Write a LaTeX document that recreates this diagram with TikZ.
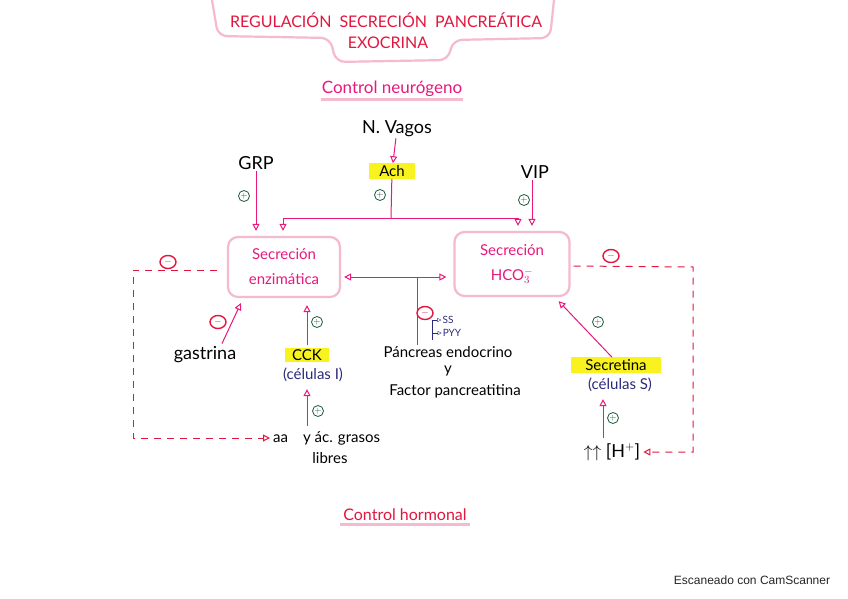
\documentclass[tikz,border=0pt]{standalone}
\usepackage{fontspec}
\setmainfont{Lato}
\newfontfamily\camfont{Liberation Sans}
\usetikzlibrary{arrows.meta,positioning,calc,shapes.geometric}
\definecolor{rosa}{HTML}{E8187C}
\definecolor{rosaclaro}{HTML}{F5B9D0}
\definecolor{rojo}{HTML}{E3163F}
\definecolor{verde}{HTML}{1E5A3C}
\definecolor{azul}{HTML}{2B2B7C}
\definecolor{amarillo}{HTML}{F8F21E}

\begin{document}
\begin{tikzpicture}[x=1pt,y=-1pt,
    txt/.style={font=\fontsize{15}{17}\selectfont, inner sep=1pt},
    grande/.style={txt, font=\fontsize{18}{20}\selectfont},
    titulo/.style={font=\fontsize{16}{18}\selectfont, text=rojo, inner sep=1pt},
    azultxt/.style={txt, text=azul},
    resalta/.style={txt, fill=amarillo, minimum width=46pt, inner sep=2pt},
    secbox/.style={draw=rosaclaro, line width=2.2pt, rounded corners=10pt, text=rosa, align=center,
      font=\fontsize{15}{25}\selectfont, minimum width=112pt, minimum height=60pt},
    posit/.style={circle, draw=verde, text=verde, thick, inner sep=0pt, minimum size=11pt, font=\fontsize{9}{9}\selectfont},
    negat/.style={ellipse, draw=rojo, text=rojo, line width=1.4pt, inner sep=0pt, minimum width=16pt, minimum height=13pt, font=\fontsize{10}{10}\selectfont},
    linea/.style={draw=rosa, line width=1pt},
    flecha/.style={linea, -{Triangle[open,length=7pt,width=7pt]}},
    flecha2/.style={linea, {Triangle[open,length=7pt,width=7pt]}-{Triangle[open,length=7pt,width=7pt]}},
    discont/.style={draw=rojo, line width=1pt, dash pattern=on 7pt off 6pt, -{Triangle[open,length=7pt,width=7pt]}},
    subraya/.style={draw=rosaclaro, line width=3pt},
  ]
  \useasboundingbox[fill=white] (0,0) rectangle (848,599);

  % titulo
  \draw[draw=rosaclaro, line width=2.2pt, rounded corners=9pt]
    (212,0) -- (218,36) -- (330,38) -- (336,62) -- (448,60) -- (453,40) -- (550,38) -- (554,0);
  \node[titulo] (tit1) at (386,20) {REGULACIÓN\enspace SECRECIÓN\enspace PANCREÁTICA};
  \node[titulo] (tit2) at (388,43) {EXOCRINA};

  % control neurogeno
  \node[txt, text=rosa, font=\fontsize{17}{19}\selectfont] (neuro) at (392,89) {Control neurógeno};
  \draw[subraya] ($(neuro.south west)+(0,1)$) -- ($(neuro.south east)+(0,1)$);

  \node[grande] (vagos) at (397,129) {N. Vagos};
  \node[resalta] (ach) at (392,171) {Ach};
  \node[grande] (grp) at (256,163) {GRP};
  \node[grande] (vip) at (535,172) {VIP};
  \node[posit] (pgrp) at (244,196) {$+$};
  \node[posit] (pach) at (380,195) {$+$};
  \node[posit] (pvip) at (524,200) {$+$};

  \node[secbox] (enz) at (284,267) {Secreción\\enzimática};
  \node[secbox, minimum width=115pt, minimum height=64pt] (hco) at (512,264) {Secreción\\HCO$_3^-$};

  \coordinate (junta) at (391,218);
  \coordinate (jizq) at (283,218);
  \coordinate (jder) at (518,218);
  \draw[flecha] (vagos) -- (ach);
  \draw[linea] (ach) -- (junta);
  \draw[linea] (jizq) -- (jder);
  \draw[flecha, shorten >=5pt] (jizq) -- (jizq |- enz.north);
  \draw[flecha, shorten >=5pt] (jder) -- (jder |- hco.north);
  \draw[flecha, shorten >=5pt] (grp.south) -- (grp.south |- enz.north);
  \draw[flecha, shorten >=5pt] ($(vip.south)+(-3,0)$) -- ($(vip.south |- hco.north)+(-3,0)$);

  % entre secreciones
  \coordinate (cruce) at (417,277);
  \draw[flecha2, shorten <=3pt, shorten >=7pt] ($(enz.east)+(0,10)$) -- ($(enz.east -| hco.west)+(0,10)$);
  \node[txt] (endo) at (448,352) {Páncreas endocrino};
  \node[txt] (yy) at (448,371) {y};
  \node[txt] (factor) at (455,391) {Factor pancreatitina};
  \draw[linea] (cruce) -- (cruce |- endo.north);
  \node[negat] (nendo) at (425,313) {$-$};
  \node[azultxt, font=\fontsize{10}{10}\selectfont] (ss) at (448,320) {SS};
  \node[azultxt, font=\fontsize{10}{10}\selectfont] (pyy) at (452,333) {PYY};
  \coordinate (llave) at (432,340);
  \draw[draw=azul, -{Triangle[open,length=4pt,width=4pt]}] (llave) |- (ss.west);
  \draw[draw=azul, -{Triangle[open,length=4pt,width=4pt]}] (llave |- pyy) -- (pyy.west);

  % izquierda
  \node[grande] (gas) at (205,355) {gastrina};
  \node[negat] (ngas) at (218,322) {$-$};
  \draw[flecha] ($(gas.north)+(17,-2)$) -- ($(enz.south west)+(14,5)$);
  \node[resalta, minimum width=44pt] (cck) at (307,355) {CCK};
  \node[azultxt] (celI) at (313,375) {(células I)};
  \node[posit] (pcck) at (317,322) {$+$};
  \draw[flecha, shorten <=2pt, shorten >=7pt] (cck.north) -- (cck.north |- enz.south);
  \node[txt, anchor=west] (aa) at (272,438) {aa\quad y ác. grasos};
  \node[txt] (libres) at (330,458) {libres};
  \node[posit] (paa) at (318,411) {$+$};
  \draw[flecha, shorten <=4pt, shorten >=6pt] (aa.north -| cck) -- (celI.south -| cck);

  \coordinate (izq) at (133,270);
  \node[negat] (nizq) at (168,262) {$-$};
  \draw[discont, shorten >=2pt] ($(enz.west)+(-10,3)$) -- (izq) |- (aa.west);

  % derecha
  \node[resalta, minimum width=90pt] (sec) at (616,365) {Secretina};
  \node[azultxt] (celS) at (620,385) {(células S)};
  \node[posit] (psec) at (598,322) {$+$};
  \draw[flecha] ($(sec.north)+(-4,0)$) -- ($(hco.south east)+(-12,4)$);
  \node[grande] (hmas) at (612,452) {$\uparrow\uparrow$ [H$^+$]};
  \node[posit] (ph) at (613,418) {$+$};
  \draw[flecha, shorten <=4pt, shorten >=6pt] ($(hmas.north)+(-9,0)$) -- ($(celS.south -| hmas.north)+(-9,0)$);

  \coordinate (der) at (693,267);
  \node[negat] (nder) at (611,256) {$-$};
  \draw[discont, shorten >=2pt] ($(hco.east)+(3,2)$) -- (der) |- (hmas.east);

  % control hormonal
  \node[txt, text=rojo, font=\fontsize{16}{18}\selectfont] (hormo) at (405,515) {Control hormonal};
  \draw[subraya] ($(hormo.south west)+(-2,2)$) -- ($(hormo.south east)+(2,2)$);

  \node[font=\camfont\fontsize{12}{14}\selectfont, text=black!85] (cam) at (752,580) {Escaneado con CamScanner};
\end{tikzpicture}
\end{document}
